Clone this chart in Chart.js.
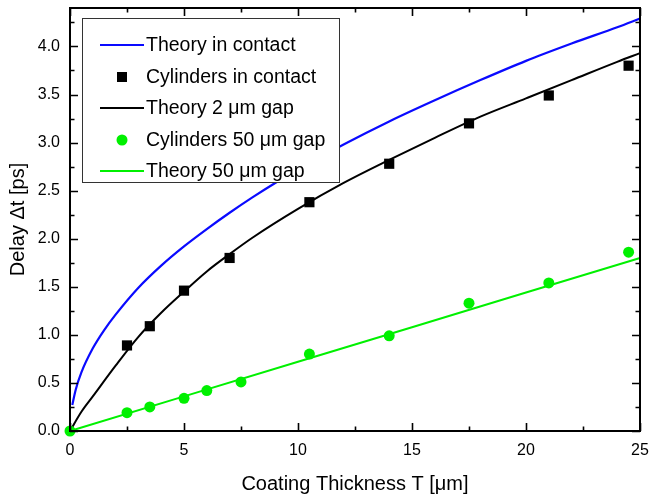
<!DOCTYPE html>
<html><head><meta charset="utf-8">
<script src="https://cdn.jsdelivr.net/npm/chart.js@4"></script>
<style>html,body{margin:0;padding:0;background:#fff}</style>
</head><body>
<canvas id="c" width="649" height="498"></canvas>
<script>
// ---- data ----
const theoryContactX = [0.1, 0.25, 0.5, 1, 1.5, 2, 3, 4, 5, 6, 7, 8, 9, 10, 12, 14, 16, 18, 20, 22, 24, 25];
const theoryContactY = [0.27, 0.43, 0.61, 0.86, 1.05, 1.21, 1.49, 1.72, 1.92, 2.10, 2.27, 2.43, 2.58, 2.72, 2.98, 3.22, 3.44, 3.65, 3.85, 4.03, 4.20, 4.29];

const cylContactX = [2.5, 3.5, 5, 7, 10.5, 14, 17.5, 21, 24.5];
const cylContactY = [0.89, 1.09, 1.46, 1.80, 2.38, 2.78, 3.20, 3.49, 3.80];

const theory2X = [0, 0.5, 1, 2, 3, 4, 5, 6, 7, 8, 10, 12, 14, 16, 18, 20, 22, 24, 25];
const theory2Y = [0, 0.20, 0.36, 0.68, 0.98, 1.23, 1.45, 1.66, 1.84, 2.01, 2.31, 2.58, 2.82, 3.05, 3.27, 3.46, 3.65, 3.84, 3.93];

const cyl50X = [0, 2.5, 3.5, 5, 6, 7.5, 10.5, 14, 17.5, 21, 24.5];
const cyl50Y = [0, 0.19, 0.25, 0.34, 0.42, 0.51, 0.80, 0.99, 1.33, 1.54, 1.86];

const theory50X = [0, 5, 10, 15, 20, 25];
const theory50Y = [0, 0.36, 0.72, 1.08, 1.44, 1.80];

const seriesLabels = ["Theory in contact", "Cylinders in contact", "Theory 2 \u03bcm gap", "Cylinders 50 \u03bcm gap", "Theory 50 \u03bcm gap"];
const xTicks = [0, 5, 10, 15, 20, 25];
const xTickLabels = ["0", "5", "10", "15", "20", "25"];
const yTicks = [0, 0.5, 1, 1.5, 2, 2.5, 3, 3.5, 4];
const yTickLabels = ["0.0", "0.5", "1.0", "1.5", "2.0", "2.5", "3.0", "3.5", "4.0"];

const pts = (xs, ys) => xs.map((x, i) => ({x, y: ys[i]}));

const BLUE = '#0a0aff', BLACK = '#000000', GREEN = '#00f000';
const FONT = '"Liberation Sans", Arial, sans-serif';

const framePlugin = {
  id: 'frame',
  afterDatasetsDraw(chart) {
    const {ctx, chartArea: a, scales: {x, y}} = chart;
    ctx.save();
    ctx.strokeStyle = '#000';
    ctx.lineWidth = 1.6;
    ctx.beginPath();
    for (let v = 0; v <= 25.001; v += 2.5) {
      const px = Math.round(x.getPixelForValue(v)) + 0.5;
      const major = Math.abs(v / 5 - Math.round(v / 5)) < 1e-6;
      const L = major ? 8 : 4.5;
      ctx.moveTo(px, a.bottom); ctx.lineTo(px, a.bottom - L);
      ctx.moveTo(px, a.top); ctx.lineTo(px, a.top + L);
    }
    for (let v = 0; v <= 4.4001; v += 0.25) {
      const py = Math.round(y.getPixelForValue(v)) + 0.5;
      const major = Math.abs(v / 0.5 - Math.round(v / 0.5)) < 1e-6;
      const L = major ? 8 : 4.5;
      ctx.moveTo(a.left, py); ctx.lineTo(a.left + L, py);
      ctx.moveTo(a.right, py); ctx.lineTo(a.right - L, py);
    }
    ctx.stroke();
    ctx.lineWidth = 2;
    ctx.strokeRect(a.left, a.top, a.right - a.left, a.bottom - a.top);
    ctx.restore();
  },
  afterDraw(chart) {
    const {ctx} = chart;
    const ds = chart.data.datasets;
    ctx.save();
    ctx.fillStyle = '#fff';
    ctx.fillRect(82, 18, 257, 164);
    ctx.strokeStyle = '#333';
    ctx.lineWidth = 1;
    ctx.strokeRect(82.5, 18.5, 257, 164);
    const rows = [45, 77, 108, 140, 171];
    ctx.font = '19.5px ' + FONT;
    ctx.textBaseline = 'middle';
    ds.forEach((d, i) => {
      const ry = rows[i];
      if (d.showLine) {
        ctx.strokeStyle = d.borderColor; ctx.lineWidth = 2;
        ctx.beginPath(); ctx.moveTo(100, ry); ctx.lineTo(144, ry); ctx.stroke();
      } else {
        ctx.fillStyle = d.backgroundColor;
        if (d.pointStyle === 'rect') ctx.fillRect(117, ry - 5, 10, 10);
        else { ctx.beginPath(); ctx.arc(122, ry, 5.5, 0, Math.PI * 2); ctx.fill(); }
      }
      ctx.fillStyle = '#000';
      ctx.fillText(d.label, 146, ry + 1);
    });
    ctx.restore();
  }
};

new Chart(document.getElementById('c'), {
  type: 'scatter',
  data: {
    datasets: [
      {label: seriesLabels[0], data: pts(theoryContactX, theoryContactY), showLine: true, borderColor: BLUE, backgroundColor: BLUE, borderWidth: 2.2, pointRadius: 0, cubicInterpolationMode: 'monotone', order: 5},
      {label: seriesLabels[1], data: pts(cylContactX, cylContactY), showLine: false, pointStyle: 'rect', pointRadius: 7.2, borderWidth: 0, backgroundColor: BLACK, borderColor: BLACK, order: 3},
      {label: seriesLabels[2], data: pts(theory2X, theory2Y), showLine: true, borderColor: BLACK, backgroundColor: BLACK, borderWidth: 2, pointRadius: 0, cubicInterpolationMode: 'monotone', order: 4},
      {label: seriesLabels[3], data: pts(cyl50X, cyl50Y), showLine: false, pointStyle: 'circle', pointRadius: 5.5, borderWidth: 0, backgroundColor: GREEN, borderColor: GREEN, order: 1},
      {label: seriesLabels[4], data: pts(theory50X, theory50Y), showLine: true, borderColor: GREEN, backgroundColor: GREEN, borderWidth: 2, pointRadius: 0, order: 2}
    ]
  },
  options: {
    responsive: false,
    animation: false,
    devicePixelRatio: 1,
    clip: false,
    layout: {padding: {top: 8, right: 9, left: 0, bottom: 0}},
    plugins: {legend: {display: false}, tooltip: {enabled: false}},
    scales: {
      x: {
        type: 'linear', min: 0, max: 25,
        grid: {display: false}, border: {display: false},
        afterBuildTicks: s => { s.ticks = xTicks.map(v => ({value: v})); },
        afterFit: s => { s.height = 67; s.paddingLeft = 0; s.paddingRight = 0; },
        ticks: {color: '#000', padding: 2, font: {family: FONT, size: 16}, maxRotation: 0,
          callback: (v) => xTickLabels[xTicks.indexOf(v)]},
        title: {display: true, text: 'Coating Thickness T [\u03bcm]', color: '#000', font: {family: FONT, size: 20}, padding: {top: 0, bottom: 2}}
      },
      y: {
        type: 'linear', min: 0, max: 4.4,
        grid: {display: false}, border: {display: false},
        afterBuildTicks: s => { s.ticks = yTicks.map(v => ({value: v})); },
        afterFit: s => { s.width = 70; s.paddingTop = 0; s.paddingBottom = 0; },
        ticks: {color: '#000', padding: 2, font: {family: FONT, size: 16},
          callback: (v) => yTickLabels[yTicks.indexOf(v)]},
        title: {display: true, text: 'Delay \u0394t [ps]', color: '#000', font: {family: FONT, size: 20}, padding: {top: 6, bottom: 0}}
      }
    }
  },
  plugins: [framePlugin]
});
</script>
</body></html>
